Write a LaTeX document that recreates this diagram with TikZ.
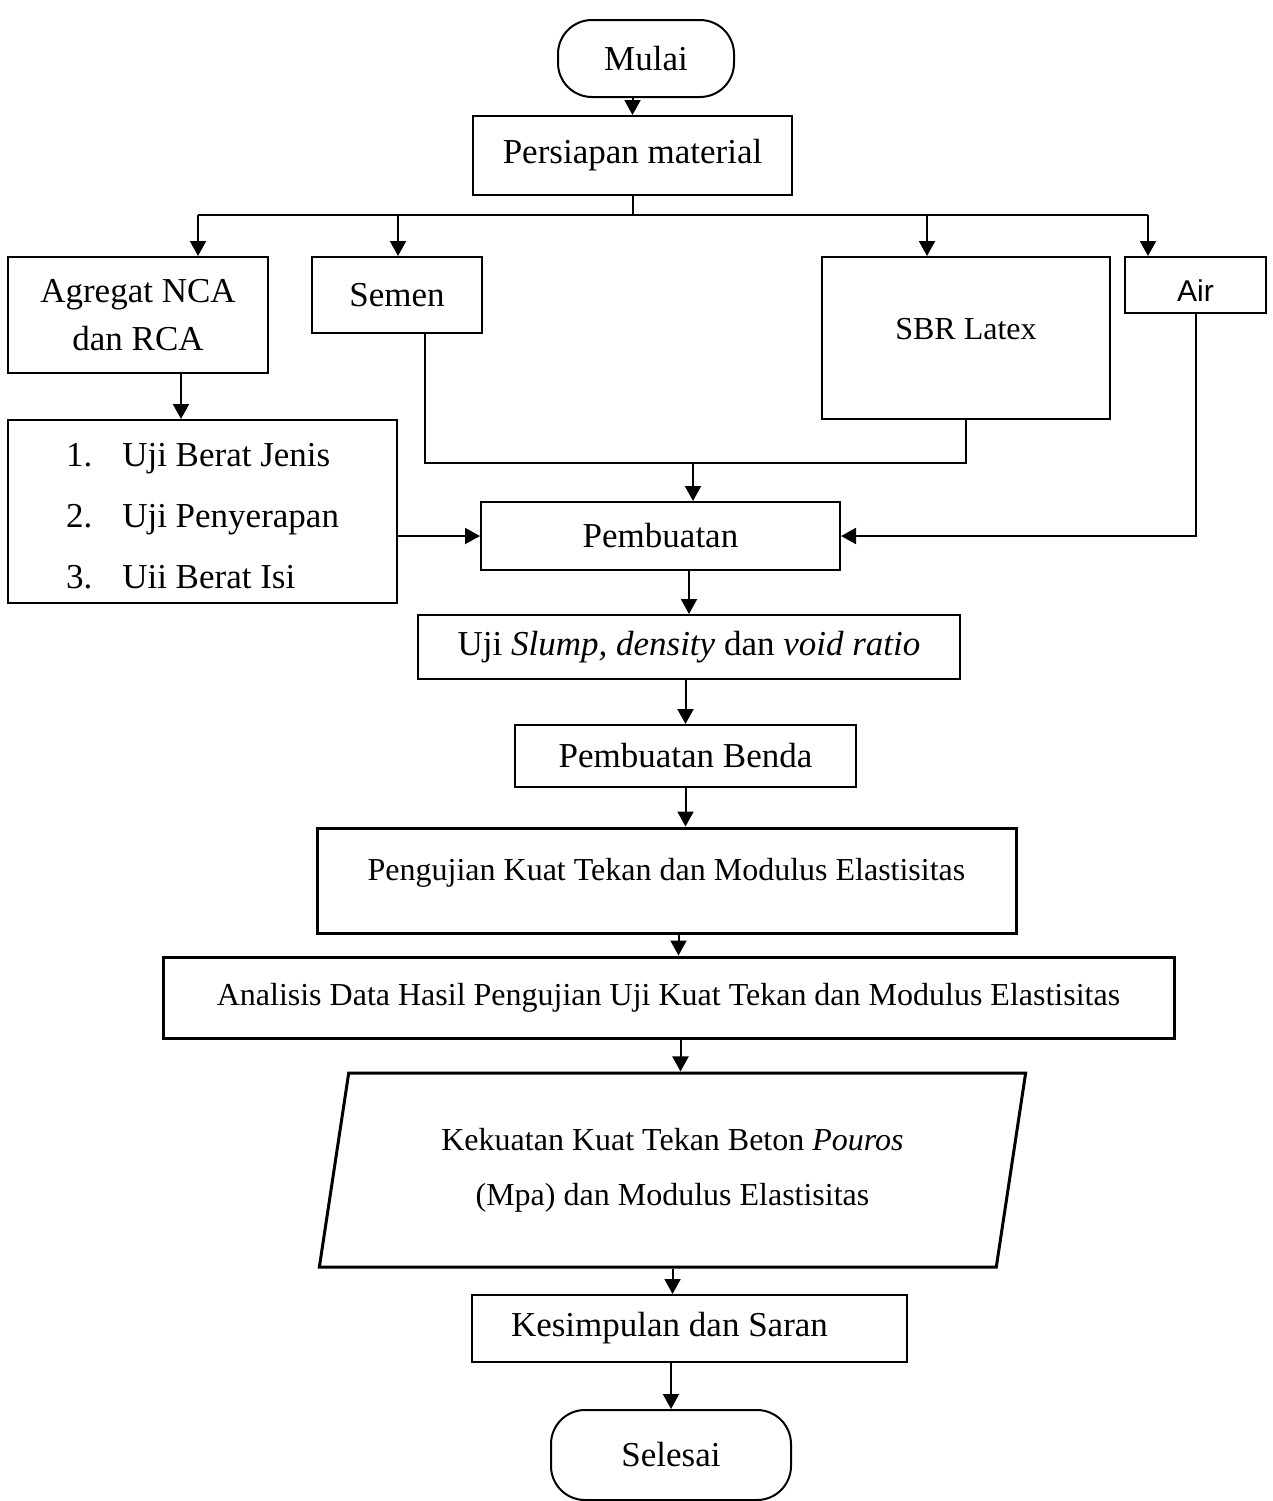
\documentclass[tikz,border=0pt]{standalone}
\usepackage{fontspec}
\setmainfont{Liberation Serif}
\newfontfamily\airfont{Liberation Sans}
\usepackage{tikz}
\usetikzlibrary{arrows.meta,shapes.geometric}

\begin{document}
\begin{tikzpicture}[
  x=0.5pt, y=-0.5pt,
  >={Triangle[width=8pt,length=7.5pt]},
  line width=1pt,
  box/.style={draw, line width=1pt, inner sep=0pt, align=center, font=\fontsize{17.5}{24}\selectfont},
  term/.style={box, rounded corners=17pt},
  bigbox/.style={draw, line width=1.5pt, inner sep=0pt, align=center, font=\fontsize{16}{19}\selectfont},
  io/.style={bigbox, trapezium, trapezium left angle=76, trapezium right angle=104, trapezium stretches=true}
]
\useasboundingbox (0,0) rectangle (1273,1501);

\node[term, minimum width=88pt, minimum height=38.5pt] (mulai) at (646,58.5) {Mulai};
\node[box, minimum width=159.5pt, minimum height=39.5pt] (pm) at (632.5,155.5) {Persiapan material};

\node[box, minimum width=130pt, minimum height=58pt] (agr) at (138,315) {Agregat NCA\\dan RCA};
\node[box, minimum width=85pt, minimum height=38pt] (sem) at (397,295) {Semen};
\node[box, minimum width=144pt, minimum height=81pt, font=\fontsize{16}{19}\selectfont, text depth=9pt] (sbr) at (966,338) {SBR Latex};
\node[box, minimum width=70.5pt, minimum height=28pt, font=\airfont\fontsize{15}{18}\selectfont, text height=16.8pt, text depth=0pt] (air) at (1195.5,285) {Air};

\node[box, minimum width=194.5pt, minimum height=91.5pt, align=left, font=\fontsize{17.5}{30.5}\selectfont] (uji) at (202.5,511.5)
  {\mbox{}\\[-14pt]1.\hspace{15pt}Uji Berat Jenis\\2.\hspace{15pt}Uji Penyerapan\\3.\hspace{15pt}Uii Berat Isi};

\node[box, minimum width=179.5pt, minimum height=34pt] (pb) at (660.5,536) {Pembuatan};
\node[box, minimum width=271pt, minimum height=32pt] (us) at (689,647) {Uji \textit{Slump, density} dan \textit{void ratio}};
\node[box, minimum width=170.5pt, minimum height=31pt] (ben) at (685.5,756) {Pembuatan Benda};
\node[bigbox, minimum width=349.5pt, minimum height=52.5pt, text depth=11pt] (peng) at (666.5,880.5) {Pengujian Kuat Tekan dan Modulus Elastisitas};
\node[bigbox, minimum width=505.5pt, minimum height=40.5pt] (ana) at (668.5,997.5) {Analisis Data Hasil Pengujian Uji Kuat Tekan dan Modulus Elastisitas};
\node[io, minimum width=354.5pt, minimum height=97pt, font=\fontsize{16}{27.5}\selectfont] (kt) at (672.5,1170)
  {Kekuatan Kuat Tekan Beton \textit{Pouros}\\(Mpa) dan Modulus Elastisitas};
\node[box, minimum width=217.5pt, minimum height=33.5pt] (kes) at (689.5,1328.5) {Kesimpulan dan Saran\mbox{\hspace{20pt}}};
\node[term, minimum width=120pt, minimum height=45pt] (sel) at (671,1455) {Selesai};

% pembagian material
\coordinate (bagi) at (632.5,215);
\coordinate (b1) at (198,215);
\coordinate (b2) at (398,215);
\coordinate (b3) at (927,215);
\coordinate (b4) at (1148,215);
\coordinate (gab) at (693,463);

\draw[->] (mulai.south -| pm.north) -- (pm.north);
\draw (pm.south) -- (bagi);
\draw (b1) -- (b4);
\draw[->] (b1) -- (b1 |- agr.north);
\draw[->] (b2) -- (b2 |- sem.north);
\draw[->] (b3) -- (b3 |- sbr.north);
\draw[->] (b4) -- (b4 |- air.north);

\draw[->] ([xshift=21.5pt]agr.south) -- ([xshift=21.5pt]agr.south |- uji.north);
\draw ([xshift=14pt]sem.south) |- (gab) -| (sbr.south);
\draw[->] (gab) -- (gab |- pb.north);
\draw[->] (pb.west -| uji.east) -- (pb.west);
\draw[->] (air.south) |- (pb.east);

\draw[->] (pb.south -| us.north) -- (us.north);
\draw[->] (us.south -| ben.north) -- (ben.north);
\draw[->] (ben.south) -- (ben.south |- peng.north);
\draw[->] ([xshift=6pt]peng.south) -- ([xshift=6pt]peng.south |- ana.north);
\draw[->] ([xshift=6pt]ana.south) -- ([xshift=6pt]ana.south |- kt.north);
\draw[->] (kt.south) -- (kt.south |- kes.north);
\draw[->] (kes.south -| sel.north) -- (sel.north);
\end{tikzpicture}
\end{document}
